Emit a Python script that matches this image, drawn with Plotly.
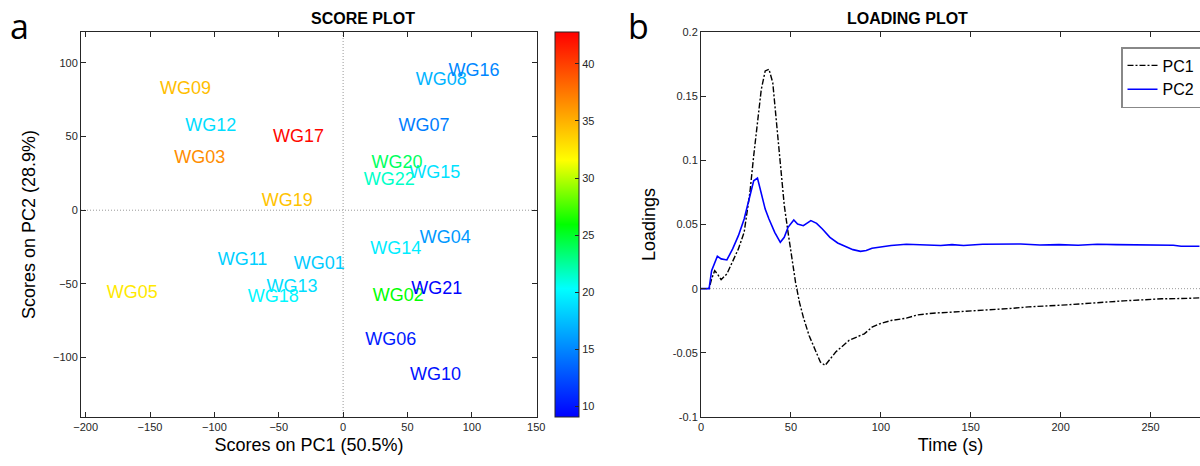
import plotly.graph_objects as go
from plotly.colors import sample_colorscale

# score plot: sample labels, PC scores and the colour variable
samples = ["WG01", "WG02", "WG03", "WG04", "WG05", "WG06", "WG07", "WG08", "WG09", "WG10", "WG11",
           "WG12", "WG13", "WG14", "WG15", "WG16", "WG17", "WG18", "WG19", "WG20", "WG21", "WG22"]
pc1_scores = [-39.6, 21.7, -132.5, 58.2, -184.8, 16.0, 41.7, 55.2, -143.5, 50.7, -98.7,
              -123.8, -60.8, 19.9, 50.1, 80.6, -55.7, -75.4, -64.4, 20.8, 51.6, 14.8]
pc2_scores = [-36.8, -58.9, 34.8, -19.2, -56.6, -88.2, 57.1, 87.8, 81.7, -112.2, -34.1,
              56.7, -52.3, -26.6, 25.1, 94.2, 49.5, -59.6, 6.1, 31.9, -53.5, 20.1]
color_value = [18.0, 25.9, 36.6, 15.8, 32.5, 10.2, 14.6, 17.0, 34.4, 9.8, 18.2,
               18.8, 18.8, 19.5, 19.0, 15.0, 42.5, 20.0, 34.2, 23.8, 9.1, 21.5]
cbar_min, cbar_max = 9.05, 42.8
cbar_ticks = [10, 15, 20, 25, 30, 35, 40]

score_xticks = [-200, -150, -100, -50, 0, 50, 100, 150]
score_yticks = [-100, -50, 0, 50, 100]

# loading plot
time_s = [0, 4.5, 5.9, 7.6, 9.1, 11.2, 14.4, 17.6, 20.8, 24.0, 27.2, 29.3, 31.4, 33.5, 35.7, 37.8,
          39.9, 42.0, 44.1, 46.3, 48.4, 50.5, 52.6, 54.8, 56.9, 60.1, 63.2, 66.4, 69.0, 71.7, 74.9,
          78.1, 82.3, 86.6, 90.8, 95.1, 99.3, 105.7, 114.2, 120.5, 129.0, 139.6, 150.3, 160.9,
          171.5, 182.1, 192.7, 203.3, 213.9, 224.5, 235.1, 245.8, 256.4, 267.0, 277.2]
pc1_loading = [0, 0, 0.0076, 0.014, 0.0115, 0.007, 0.0115, 0.0206, 0.031, 0.044, 0.075, 0.1035,
               0.1295, 0.155, 0.1697, 0.171, 0.1606, 0.129, 0.0958, 0.065, 0.044, 0.0228, 0.0047,
               -0.0109, -0.0222, -0.0365, -0.0468, -0.0572, -0.0598, -0.0546, -0.0494, -0.0455,
               -0.0403, -0.0377, -0.0352, -0.030, -0.0274, -0.0248, -0.023, -0.0204, -0.0191,
               -0.0183, -0.0175, -0.0165, -0.0155, -0.0142, -0.0136, -0.0126, -0.0116, -0.0103,
               -0.0095, -0.0087, -0.0079, -0.0077, -0.0072]
time2_s = [0, 4.5, 5.9, 7.6, 9.1, 11.2, 14.4, 17.6, 20.8, 24.0, 27.2, 29.3, 31.4, 33.5, 35.7, 37.8,
           41.0, 44.1, 46.3, 48.4, 51.6, 53.7, 56.9, 61.1, 64.3, 67.5, 71.7, 76.0, 80.2, 84.5,
           88.7, 91.9, 95.1, 99.3, 105.7, 114.2, 124.8, 133.3, 139.6, 146.0, 156.6, 167.2, 177.8,
           188.5, 199.1, 209.7, 220.3, 230.9, 241.5, 252.1, 262.7, 267.0, 277.2]
pc2_loading = [0, 0, 0.014, 0.0206, 0.0253, 0.0232, 0.0224, 0.031, 0.0413, 0.0543, 0.0724, 0.0841,
               0.0862, 0.075, 0.062, 0.0543, 0.0439, 0.0361, 0.040, 0.0478, 0.0535, 0.0504, 0.0491,
               0.053, 0.0509, 0.0465, 0.040, 0.0356, 0.0328, 0.0304, 0.0291, 0.0297, 0.0315, 0.0325,
               0.0336, 0.0346, 0.0343, 0.0336, 0.0343, 0.0336, 0.0346, 0.0346, 0.0348, 0.034,
               0.0343, 0.0338, 0.0346, 0.0343, 0.034, 0.034, 0.0338, 0.033, 0.033]
load_xticks = [0, 50, 100, 150, 200, 250]
load_yticks = [-0.1, -0.05, 0, 0.05, 0.1, 0.15, 0.2]
load_yticktext = ["-0.1", "-0.05", "0", "0.05", "0.1", "0.15", "0.2"]

FONT = "Liberation Sans, Arial, sans-serif"
AXC = "#262626"
RAINBOW = [[0, "rgb(0,0,255)"], [1 / 3, "rgb(0,255,255)"], [0.5, "rgb(0,255,0)"],
           [2 / 3, "rgb(255,255,0)"], [1, "rgb(255,0,0)"]]

norm = [(v - cbar_min) / (cbar_max - cbar_min) for v in color_value]
label_colors = sample_colorscale(RAINBOW, norm)

fig = go.Figure()

fig.add_trace(go.Scatter(
    x=pc1_scores, y=pc2_scores, mode="markers+text", text=samples,
    textposition="middle right",
    textfont=dict(family=FONT, size=18, color=label_colors),
    marker=dict(size=1, opacity=0, color=color_value, colorscale=RAINBOW,
                cmin=cbar_min, cmax=cbar_max, showscale=True,
                colorbar=dict(x=555 / 1200, xanchor="left", y=1 - 32 / 466, yanchor="top",
                              len=385 / 466, lenmode="fraction", thickness=24,
                              outlinewidth=1, outlinecolor=AXC, tickvals=cbar_ticks,
                              ticks="inside", ticklen=4, tickcolor=AXC,
                              tickfont=dict(family=FONT, size=11, color=AXC), xpad=0, ypad=0)),
    xaxis="x", yaxis="y", showlegend=False, cliponaxis=False,
))

fig.add_trace(go.Scatter(x=time_s, y=pc1_loading, mode="lines", name="PC1",
                         line=dict(color="black", width=1.4, dash="6px,2px,2px,2px"),
                         xaxis="x2", yaxis="y2"))
fig.add_trace(go.Scatter(x=time2_s, y=pc2_loading, mode="lines", name="PC2",
                         line=dict(color="rgb(0,0,255)", width=1.6),
                         xaxis="x2", yaxis="y2"))

axis_common = dict(showgrid=False, zeroline=False, showline=True, linecolor=AXC, linewidth=1,
                   ticks="inside", ticklen=5, tickcolor=AXC, automargin=False,
                   tickfont=dict(family=FONT, size=11, color=AXC))
title_font = dict(family=FONT, size=18, color="black")
zero_line = dict(color="#999999", width=1, dash="1px,2px")

fig.update_layout(
    width=1200, height=466, margin=dict(l=0, r=0, t=0, b=0, autoexpand=False),
    paper_bgcolor="white", plot_bgcolor="white",
    xaxis=dict(axis_common, domain=[81 / 1200, 537 / 1200], range=[-203.6, 150.6],
               tickvals=score_xticks, mirror="allticks", anchor="y",
               title=dict(text="Scores on PC1 (50.5%)", font=title_font, standoff=6)),
    yaxis=dict(axis_common, domain=[1 - 417 / 466, 1 - 32 / 466], range=[-140.4, 121],
               tickvals=score_yticks, mirror="allticks", anchor="x",
               title=dict(text="Scores on PC2 (28.9%)", font=title_font, standoff=12)),
    xaxis2=dict(axis_common, domain=[701 / 1200, 1.0], range=[0, 277.5],
                tickvals=load_xticks, mirror="ticks", anchor="y2",
                title=dict(text="Time (s)", font=title_font, standoff=6)),
    yaxis2=dict(axis_common, domain=[1 - 417 / 466, 1 - 32 / 466], range=[-0.1, 0.2],
                tickvals=load_yticks, ticktext=load_yticktext, mirror=False, anchor="x2",
                title=dict(text="Loadings", font=title_font, standoff=12)),
    legend=dict(x=1121 / 1200, y=1 - 47 / 466, xanchor="left", yanchor="top",
                entrywidth=95, entrywidthmode="pixels",
                bgcolor="white", bordercolor="#888888", borderwidth=1.5,
                font=dict(family=FONT, size=16, color="black"), tracegroupgap=0),
    shapes=[
        dict(type="line", xref="x domain", yref="y", x0=0, x1=1, y0=0, y1=0,
             line=zero_line, layer="below"),
        dict(type="line", xref="x", yref="y domain", x0=0, x1=0, y0=0, y1=1,
             line=zero_line, layer="below"),
        dict(type="line", xref="x2 domain", yref="y2", x0=0, x1=1, y0=0, y1=0,
             line=zero_line, layer="below"),
    ],
    annotations=[
        dict(text="<b>SCORE PLOT</b>", xref="paper", yref="paper", x=309 / 1200, y=1 - 18 / 466,
             yanchor="middle", showarrow=False, font=dict(family=FONT, size=16, color="black")),
        dict(text="<b>LOADING PLOT</b>", xref="paper", yref="paper", x=970 / 1200, y=1 - 18 / 466,
             yanchor="middle", showarrow=False, font=dict(family=FONT, size=16, color="black")),
        dict(text="a", xref="paper", yref="paper", x=8 / 1200, y=1 - 26 / 466, xanchor="left",
             yanchor="middle", showarrow=False,
             font=dict(family="Open Sans, sans-serif", size=34, color="black")),
        dict(text="b", xref="paper", yref="paper", x=626 / 1200, y=1 - 26 / 466, xanchor="left",
             yanchor="middle", showarrow=False,
             font=dict(family="Open Sans, sans-serif", size=34, color="black")),
    ],
)

fig.write_html("out.html", config={"displayModeBar": False},
               post_script="document.body.style.margin='0';")
